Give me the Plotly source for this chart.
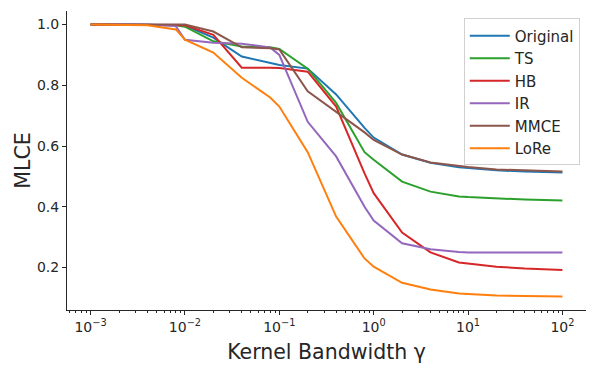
import plotly.graph_objects as go

gamma = [1e-3, 2e-3, 4e-3, 8e-3, 1e-2, 2e-2, 4e-2, 8e-2, 0.1, 0.2, 0.4, 0.8,
         1, 2, 4, 8, 10, 20, 40, 80, 100]

original = [1.0, 1.0, 1.0, 0.999, 0.997, 0.957, 0.895, 0.875, 0.867, 0.855, 0.77, 0.66,
            0.628, 0.572, 0.545, 0.53, 0.527, 0.52, 0.516, 0.514, 0.513]
ts = [1.0, 1.0, 1.0, 0.998, 0.993, 0.945, 0.928, 0.925, 0.92, 0.855, 0.742, 0.58,
      0.555, 0.483, 0.45, 0.434, 0.432, 0.427, 0.424, 0.422, 0.421]
hb = [1.0, 1.0, 1.0, 0.999, 0.998, 0.966, 0.858, 0.858, 0.857, 0.845, 0.73, 0.51,
      0.445, 0.315, 0.25, 0.217, 0.213, 0.203, 0.197, 0.193, 0.192]
ir = [1.0, 1.0, 1.0, 0.995, 0.95, 0.94, 0.937, 0.925, 0.90, 0.68, 0.566, 0.40,
      0.355, 0.28, 0.26, 0.251, 0.25, 0.25, 0.25, 0.25, 0.25]
mmce = [1.0, 1.0, 1.0, 1.0, 1.0, 0.977, 0.925, 0.922, 0.918, 0.78, 0.713, 0.645,
        0.62, 0.572, 0.546, 0.533, 0.531, 0.523, 0.519, 0.517, 0.516]
lore = [1.0, 1.0, 0.998, 0.984, 0.95, 0.908, 0.825, 0.76, 0.73, 0.58, 0.368, 0.23,
        0.203, 0.15, 0.128, 0.115, 0.113, 0.108, 0.106, 0.105, 0.105]

series = [("Original", original, "#1f77b4"),
          ("TS", ts, "#2ca02c"),
          ("HB", hb, "#d62728"),
          ("IR", ir, "#9467bd"),
          ("MMCE", mmce, "#8c564b"),
          ("LoRe", lore, "#ff7f0e")]

xtick_vals = [1e-3, 1e-2, 1e-1, 1, 10, 100]
xtick_text = ["10<sup>−3</sup>", "10<sup>−2</sup>", "10<sup>−1</sup>",
              "10<sup>0</sup>", "10<sup>1</sup>", "10<sup>2</sup>"]
ytick_vals = [0.2, 0.4, 0.6, 0.8, 1.0]
ytick_text = ["0.2", "0.4", "0.6", "0.8", "1.0"]

fig = go.Figure()
for name, vals, color in series:
    fig.add_trace(go.Scatter(x=gamma, y=vals, mode="lines", name=name,
                             line=dict(color=color, width=2)))

font = "DejaVu Sans"
fig.update_layout(
    width=590, height=366,
    margin=dict(l=59, r=12, t=3, b=64, autoexpand=False),
    paper_bgcolor="white", plot_bgcolor="white",
    font=dict(family=font, size=14, color="#262626"),
    showlegend=True,
    legend=dict(x=0.988, y=0.975, xanchor="right", yanchor="top",
                bgcolor="rgba(255,255,255,0.8)", bordercolor="#d0d0d0", borderwidth=1,
                font=dict(family=font, size=15, color="#262626"),
                itemwidth=40, tracegroupgap=0),
    xaxis=dict(type="log", range=[-3.25, 2.25], automargin=False,
               tickvals=xtick_vals, ticktext=xtick_text,
               ticks="outside", ticklen=4, tickcolor="#262626",
               showline=True, linecolor="#262626", linewidth=1,
               showgrid=False, zeroline=False,
               tickfont=dict(family=font, size=14),
               minor=dict(ticks="outside", ticklen=2, tickcolor="#262626", dtick="D1", showgrid=False),
               title=dict(text="Kernel Bandwidth γ", font=dict(family=font, size=20.5), standoff=10)),
    yaxis=dict(range=[0.0603, 1.0447], automargin=False,
               tickvals=ytick_vals, ticktext=ytick_text,
               ticks="outside", ticklen=4, tickcolor="#262626",
               showline=True, linecolor="#262626", linewidth=1,
               showgrid=False, zeroline=False,
               tickfont=dict(family=font, size=14),
               title=dict(text="MLCE", font=dict(family=font, size=20.5), standoff=0)),
)

fig.write_html("out.html")
